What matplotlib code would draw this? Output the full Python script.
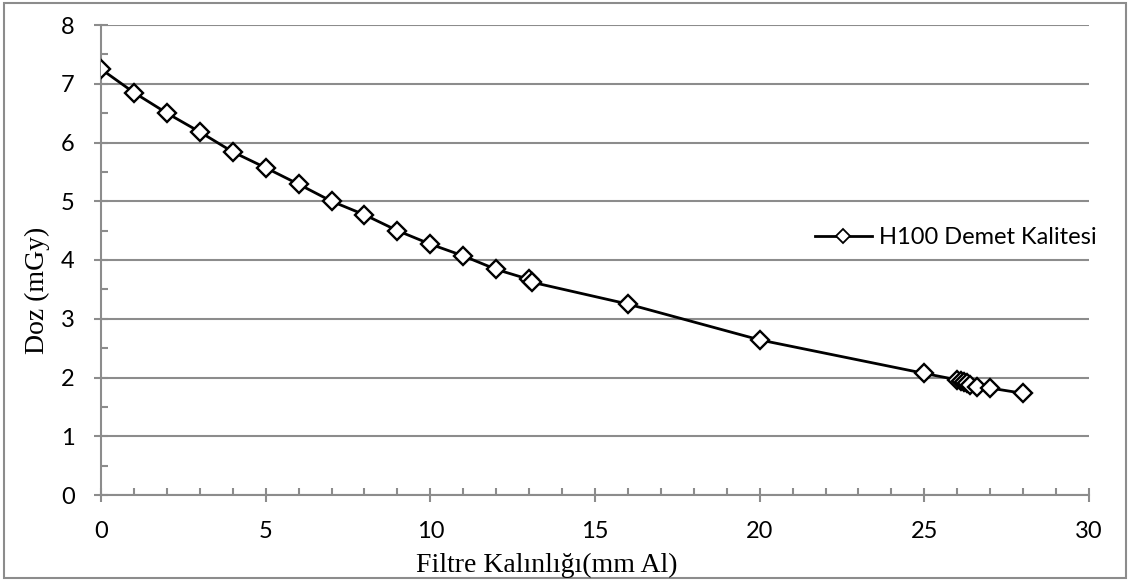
import matplotlib
matplotlib.use("Agg")
import matplotlib.pyplot as plt
from matplotlib.patches import Rectangle
from matplotlib.ticker import MultipleLocator

# Filter thickness (mm Al) and measured dose (mGy)
thickness = [0, 1, 2, 3, 4, 5, 6, 7, 8, 9, 10, 11, 12, 13, 13.1, 16, 20, 25,
             26.0, 26.1, 26.2, 26.3, 26.4, 26.6, 27, 28]
dose = [7.25, 6.85, 6.50, 6.18, 5.84, 5.57, 5.29, 5.00, 4.77, 4.50, 4.27, 4.07,
        3.84, 3.67, 3.62, 3.25, 2.64, 2.07,
        1.96, 1.94, 1.92, 1.90, 1.87, 1.83, 1.82, 1.73]
series_name = "H100 Demet Kalitesi"
x_title = "Filtre Kalınlığı(mm Al)"
y_title = "Doz (mGy)"

grey = "#8c8c8c"
tick_font = "Lato"
title_font = "Liberation Serif"

fig = plt.figure(figsize=(11.30, 5.81), dpi=100)
ax = fig.add_axes([101 / 1130, 1 - 495 / 581, (1089 - 101) / 1130, (495 - 25) / 581])

ax.plot(thickness, dose, color="black", lw=2, marker="D", ms=9,
        mfc="white", mec="black", mew=1.7, label=series_name, zorder=3)

ax.set_xlim(0, 30)
ax.set_ylim(0, 8)
ax.xaxis.set_major_locator(MultipleLocator(5))
ax.xaxis.set_minor_locator(MultipleLocator(1))
ax.yaxis.set_major_locator(MultipleLocator(1))
ax.yaxis.set_minor_locator(MultipleLocator(0.5))

ax.grid(axis="y", which="major", color=grey, lw=1.5, zorder=0)
for s in ("top", "right"):
    ax.spines[s].set_visible(False)
for s in ("left", "bottom"):
    ax.spines[s].set_color(grey)
    ax.spines[s].set_linewidth(1.5)

ax.tick_params(which="major", direction="inout", length=10, width=1.5,
               color=grey, labelsize=17)
ax.tick_params(which="minor", direction="in", length=5, width=1.5, color=grey)
ax.tick_params(axis="x", which="major", pad=14)
ax.tick_params(axis="y", which="major", pad=14)
for lbl in ax.get_xticklabels() + ax.get_yticklabels():
    lbl.set_fontfamily(tick_font)

fig.text(547 / 1130, 1 - 565 / 581, x_title, family=title_font, fontsize=20,
         ha="center", va="center")
fig.text(37 / 1130, 1 - 290 / 581, y_title, family=title_font, fontsize=20,
         ha="center", va="center", rotation=90)

leg = ax.legend(loc="center left", bbox_to_anchor=((815 - 101) / 988, (495 - 238) / 470),
                frameon=False, prop={"family": tick_font, "size": 17},
                handlelength=2.4, handletextpad=0.3, borderaxespad=0, borderpad=0)
for h in leg.legend_handles:
    h.set_markersize(7)
    h.set_markeredgewidth(1.3)

fig.patches.append(Rectangle((4 / 1130, 3 / 581), 1122 / 1130, 575 / 581,
                             transform=fig.transFigure, fill=False,
                             edgecolor=grey, lw=1.5))

fig.savefig("out.png", dpi=100, facecolor="white")
